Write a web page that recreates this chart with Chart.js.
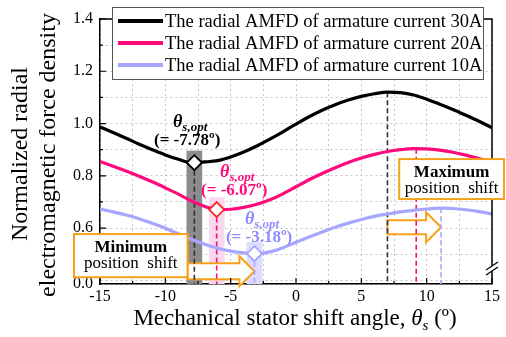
<!DOCTYPE html>
<html>
<head>
<meta charset="utf-8">
<script src="https://cdn.jsdelivr.net/npm/chart.js@4.4.1/dist/chart.umd.min.js"></script>
<style>
  html, body { margin: 0; padding: 0; background: #fff; }
</style>
</head>
<body>
<canvas id="myChart" width="506" height="337"></canvas>
<script>
// stator shift angle (deg)
var shiftAngle = [-15, -14, -13, -12, -11, -10, -9, -8, -7, -6, -5, -4, -3, -2, -1, 0,
                  1, 2, 3, 4, 5, 6, 7, 8, 9, 10, 11, 12, 13, 14, 15];

// normalized radial force density per armature current
var amfd30A = [0.987, 0.966, 0.944, 0.921, 0.900, 0.880, 0.863, 0.850, 0.853, 0.858, 0.872,
               0.891, 0.914, 0.940, 0.968, 0.998, 1.026, 1.051, 1.072, 1.090, 1.104, 1.114,
               1.120, 1.118, 1.109, 1.093, 1.074, 1.054, 1.032, 1.009, 0.984];
var amfd20A = [0.855, 0.837, 0.818, 0.798, 0.777, 0.754, 0.730, 0.704, 0.683, 0.671, 0.672,
               0.679, 0.691, 0.708, 0.731, 0.758, 0.785, 0.809, 0.831, 0.851, 0.868, 0.882,
               0.893, 0.900, 0.904, 0.903, 0.898, 0.890, 0.879, 0.866, 0.851];
var amfd10A = [0.673, 0.662, 0.650, 0.636, 0.618, 0.599, 0.578, 0.557, 0.538, 0.523, 0.512,
               0.505, 0.502, 0.509, 0.525, 0.546, 0.566, 0.585, 0.603, 0.619, 0.633, 0.645,
               0.654, 0.662, 0.668, 0.673, 0.676, 0.675, 0.670, 0.663, 0.654];

var seriesLabels = ["The radial AMFD of armature current 30A",
                    "The radial AMFD of armature current 20A",
                    "The radial AMFD of armature current 10A"];
var seriesColors = ["#000000", "#ff0a7c", "#a6a6ff"];
var textColors = ["#000000", "#ff0a7c", "#8c8cff"];

// optimum (minimum) and peak positions
var optAngle = [-7.78, -6.07, -3.18];
var optValue = [0.850, 0.671, 0.502];
var peakAngle = [7.0, 9.2, 11.1];
var peakValue = [1.120, 0.904, 0.676];
var bandTop = [0.896, 0.717, 0.546];

// y axis is broken: bottom tick is labelled 0.0
var yFloor = 0.386;
var yTickLabels = [0.6, 0.8, 1.0, 1.2, 1.4];
var xTickLabels = [-15, -10, -5, 0, 5, 10, 15];

var serif = '"Liberation Serif", "Times New Roman", serif';
var orange = "#f7a11a";

function pts(xs, ys) {
    return xs.map(function(x, i) { return { x: x, y: ys[i] }; });
}

var curves = [amfd30A, amfd20A, amfd10A];
var datasets = [];

// markers on top
for (var i = 0; i < 3; i++) {
    datasets.push({
        type: "line",
        data: [{ x: optAngle[i], y: optValue[i] }],
        showLine: false,
        pointStyle: "rectRot",
        pointRadius: 7.5,
        pointBackgroundColor: "#ffffff",
        pointBorderColor: i == 1 ? "#ff2020" : seriesColors[i],
        pointBorderWidth: 1.8
    });
}
for (var i = 0; i < 3; i++) {
    datasets.push({
        type: "line",
        data: pts(shiftAngle, curves[i]),
        borderColor: seriesColors[i],
        borderWidth: 3.2,
        pointRadius: 0,
        cubicInterpolationMode: "monotone"
    });
}
// dashed drop lines
for (var i = 0; i < 3; i++) {
    var dashColor = i == 0 ? "#333333" : seriesColors[i];
    datasets.push({
        type: "line",
        data: [{ x: optAngle[i], y: optValue[i] }, { x: optAngle[i], y: yFloor }],
        borderColor: dashColor, borderWidth: 1.6, borderDash: [5, 3], pointRadius: 0
    });
    datasets.push({
        type: "line",
        data: [{ x: peakAngle[i], y: peakValue[i] }, { x: peakAngle[i], y: yFloor }],
        borderColor: dashColor, borderWidth: 1.6, borderDash: [5, 3], pointRadius: 0
    });
}

function drawArrow(ctx, x0, x1, yc, shaft, head, headLen) {
    ctx.beginPath();
    ctx.moveTo(x0, yc - shaft);
    ctx.lineTo(x1 - headLen, yc - shaft);
    ctx.lineTo(x1 - headLen, yc - head);
    ctx.lineTo(x1, yc);
    ctx.lineTo(x1 - headLen, yc + head);
    ctx.lineTo(x1 - headLen, yc + shaft);
    ctx.lineTo(x0, yc + shaft);
    ctx.closePath();
    ctx.fillStyle = "#ffffff";
    ctx.fill();
    ctx.strokeStyle = orange;
    ctx.lineWidth = 2;
    ctx.stroke();
}

function drawNoteBox(ctx, x0, y0, x1, y1, title) {
    ctx.fillStyle = "#ffffff";
    ctx.fillRect(x0, y0, x1 - x0, y1 - y0);
    ctx.strokeStyle = orange;
    ctx.lineWidth = 2;
    ctx.strokeRect(x0, y0, x1 - x0, y1 - y0);
    var cx = (x0 + x1) / 2;
    ctx.fillStyle = "#000";
    ctx.textAlign = "center";
    ctx.textBaseline = "alphabetic";
    ctx.font = "bold 17px " + serif;
    ctx.fillText(title, cx, y0 + 18);
    ctx.font = "17px " + serif;
    ctx.fillText("position  shift", cx, y0 + 34);
}

function drawTheta(ctx, cx, base, color) {
    ctx.font = "bold italic 18px " + serif;
    var w1 = ctx.measureText("\u03b8").width;
    ctx.font = "bold italic 13px " + serif;
    var w2 = ctx.measureText("s,opt").width;
    var x0 = cx - (w1 + w2) / 2;
    ctx.fillStyle = color;
    ctx.textAlign = "left";
    ctx.font = "bold italic 18px " + serif;
    ctx.fillText("\u03b8", x0, base);
    ctx.font = "bold italic 13px " + serif;
    ctx.fillText("s,opt", x0 + w1, base + 4);
}

var extras = {
    id: "extras",
    beforeDatasetsDraw: function(chart) {
        var ctx = chart.ctx, xs = chart.scales.x, ys = chart.scales.y;
        var bandColors = ["#8c8c8c", "#f8d8ec", "#dcdcff"];
        ctx.save();
        for (var i = 0; i < 3; i++) {
            var l = xs.getPixelForValue(optAngle[i] - 0.6);
            var r = xs.getPixelForValue(optAngle[i] + 0.6);
            var t = ys.getPixelForValue(bandTop[i]);
            ctx.fillStyle = bandColors[i];
            ctx.fillRect(l, t, r - l, chart.chartArea.bottom - t);
        }
        // shift arrows
        drawArrow(ctx, xs.getPixelForValue(-8.3), xs.getPixelForValue(optAngle[2]),
                  ys.getPixelForValue(0.435), 8, 15, 15);
        drawArrow(ctx, xs.getPixelForValue(peakAngle[0]), xs.getPixelForValue(peakAngle[2]),
                  ys.getPixelForValue(0.603), 7, 15, 15);
        ctx.restore();
    },
    afterDatasetsDraw: function(chart) {
        var ctx = chart.ctx, xs = chart.scales.x, ys = chart.scales.y, a = chart.chartArea;
        ctx.save();
        // optimum labels
        var labelX = [-8.1, -4.5, -2.6];
        var labelY = [0.985, 0.797, 0.615];
        for (var i = 0; i < 3; i++) {
            var cx = xs.getPixelForValue(labelX[i]);
            var by = ys.getPixelForValue(labelY[i]);
            drawTheta(ctx, cx, by, textColors[i]);
            ctx.font = "bold 17px " + serif;
            ctx.textAlign = "center";
            ctx.fillStyle = textColors[i];
            ctx.fillText("(= " + optAngle[i].toFixed(2) + "\u00ba)", cx - 3, by + 18);
        }

        // frame: right and top edges
        ctx.strokeStyle = "#000";
        ctx.lineWidth = 1.5;
        ctx.beginPath();
        ctx.moveTo(a.left, a.top);
        ctx.lineTo(a.right, a.top);
        ctx.lineTo(a.right, a.bottom);
        ctx.stroke();

        // inward tick marks
        ctx.lineWidth = 1.2;
        ctx.beginPath();
        for (var v = -15; v <= 15; v += 2.5) {
            var px = xs.getPixelForValue(v);
            var len = (v % 5 == 0) ? 6 : 3;
            ctx.moveTo(px, a.bottom);
            ctx.lineTo(px, a.bottom - len);
        }
        for (var k = 5; k <= 14; k++) {
            var py = ys.getPixelForValue(k / 10);
            var len2 = (k % 2 == 0) ? 6 : 3;
            ctx.moveTo(a.left, py);
            ctx.lineTo(a.left + len2, py);
        }
        ctx.stroke();

        // axis break mark on right edge
        var by0 = ys.getPixelForValue(0.44);
        ctx.fillStyle = "#fff";
        ctx.beginPath();
        ctx.moveTo(a.right - 6, by0 + 5);
        ctx.lineTo(a.right + 6, by0 - 3);
        ctx.lineTo(a.right + 6, by0 - 8);
        ctx.lineTo(a.right - 6, by0);
        ctx.closePath();
        ctx.fill();
        ctx.beginPath();
        ctx.moveTo(a.right - 6, by0 + 5);
        ctx.lineTo(a.right + 6, by0 - 3);
        ctx.moveTo(a.right - 6, by0);
        ctx.lineTo(a.right + 6, by0 - 8);
        ctx.stroke();

        // note boxes
        drawNoteBox(ctx, 74, ys.getPixelForValue(0.577), xs.getPixelForValue(-8.3),
                    ys.getPixelForValue(0.412), "Minimum");
        drawNoteBox(ctx, xs.getPixelForValue(7.9), ys.getPixelForValue(0.864), 504,
                    ys.getPixelForValue(0.711), "Maximum");
        ctx.restore();
    },
    afterDraw: function(chart) {
        var ctx = chart.ctx;
        ctx.save();
        // legend box
        ctx.fillStyle = "#fff";
        ctx.fillRect(112, 7, 371, 72);
        ctx.strokeStyle = "#555";
        ctx.lineWidth = 1;
        ctx.strokeRect(112.5, 7.5, 371, 72);
        ctx.font = "18.5px " + serif;
        ctx.textAlign = "left";
        ctx.textBaseline = "middle";
        for (var i = 0; i < 3; i++) {
            var ly = 21 + i * 22;
            ctx.strokeStyle = seriesColors[i];
            ctx.lineWidth = 4;
            ctx.beginPath();
            ctx.moveTo(118, ly);
            ctx.lineTo(163, ly);
            ctx.stroke();
            ctx.fillStyle = "#000";
            ctx.fillText(seriesLabels[i], 165, ly + 1);
        }

        // axis titles
        ctx.textBaseline = "alphabetic";
        ctx.fillStyle = "#000";
        var part1 = "Mechanical stator shift angle, ";
        var part3 = " (\u00ba)";
        ctx.font = "23px " + serif;
        var w1 = ctx.measureText(part1).width;
        var w3 = ctx.measureText(part3).width;
        ctx.font = "italic 23px " + serif;
        var wt = ctx.measureText("\u03b8").width;
        ctx.font = "italic 15px " + serif;
        var ws = ctx.measureText("s").width;
        var x0 = 295 - (w1 + wt + ws + w3) / 2;
        ctx.font = "23px " + serif;
        ctx.fillText(part1, x0, 325);
        ctx.font = "italic 23px " + serif;
        ctx.fillText("\u03b8", x0 + w1, 325);
        ctx.font = "italic 15px " + serif;
        ctx.fillText("s", x0 + w1 + wt, 330);
        ctx.font = "23px " + serif;
        ctx.fillText(part3, x0 + w1 + wt + ws, 325);

        ctx.rotate(-Math.PI / 2);
        ctx.textAlign = "center";
        ctx.font = "24px " + serif;
        ctx.fillText("Normalized radial", -154, 27);
        ctx.fillText("electromagnetic force density", -155, 55);
        ctx.restore();
    }
};

var ctx = document.getElementById("myChart");

var AmfdChart = new Chart(ctx, {
    type: "line",
    data: { datasets: datasets },
    plugins: [extras],
    options: {
        responsive: false,
        animation: false,
        devicePixelRatio: 1,
        layout: { padding: { top: 19, right: 14, left: 0, bottom: 0 } },
        plugins: {
            legend: { display: false },
            tooltip: { enabled: false }
        },
        scales: {
            x: {
                type: "linear",
                min: -15,
                max: 15,
                afterFit: function(s) { s.height = 53; },
                ticks: {
                    stepSize: 2.5,
                    padding: 3,
                    color: "#000",
                    font: { family: serif, size: 16 },
                    maxRotation: 0,
                    autoSkip: false,
                    callback: function(v) {
                        return xTickLabels.indexOf(v) >= 0 ? String(v) : "";
                    }
                },
                grid: {
                    color: "#c4c4c4",
                    lineWidth: 1,
                    drawTicks: false
                },
                border: { color: "#000", width: 1.5, dash: [2, 3] }
            },
            y: {
                min: yFloor,
                max: 1.4,
                afterFit: function(s) { s.width = 100; },
                afterBuildTicks: function(s) {
                    var t = [{ value: yFloor }];
                    for (var k = 4; k <= 14; k++) t.push({ value: k / 10 });
                    s.ticks = t;
                },
                ticks: {
                    padding: 7,
                    color: "#000",
                    font: { family: serif, size: 16 },
                    callback: function(v) {
                        if (v == yFloor) return "0.0";
                        for (var j = 0; j < yTickLabels.length; j++) {
                            if (Math.abs(v - yTickLabels[j]) < 1e-6) return v.toFixed(1);
                        }
                        return "";
                    }
                },
                grid: {
                    color: "#c4c4c4",
                    lineWidth: 1,
                    drawTicks: false
                },
                border: { color: "#000", width: 1.5, dash: [2, 3] }
            }
        }
    }
});
</script>
</body>
</html>
